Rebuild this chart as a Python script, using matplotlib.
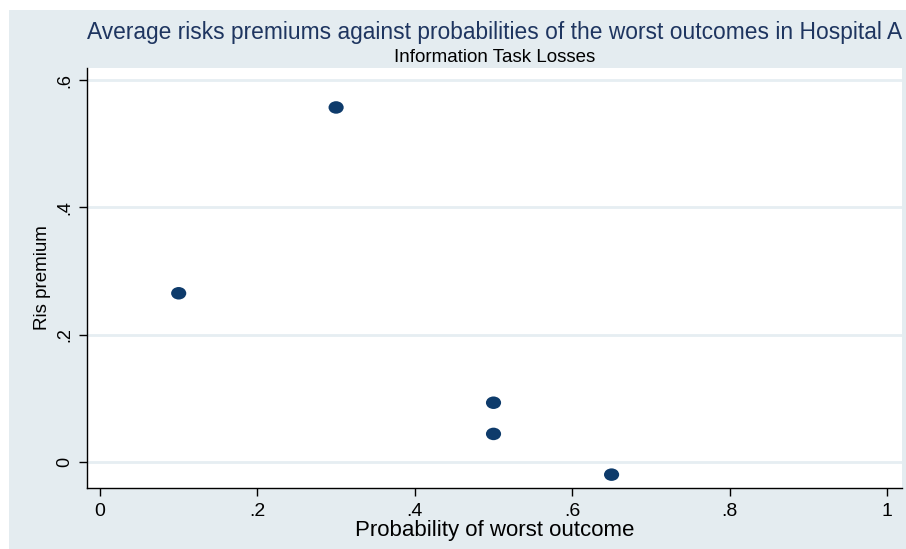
import matplotlib
matplotlib.use("Agg")
import matplotlib.pyplot as plt
from matplotlib.patches import Rectangle
from matplotlib.markers import MarkerStyle
from matplotlib.transforms import Affine2D

# data
prob_worst = [0.1, 0.3, 0.5, 0.5, 0.65]
risk_premium = [0.265, 0.557, 0.093, 0.044, -0.020]

x_ticks = [0, 0.2, 0.4, 0.6, 0.8, 1]
x_tick_labels = ["0", ".2", ".4", ".6", ".8", "1"]
y_ticks = [0, 0.2, 0.4, 0.6]
y_tick_labels = ["0", ".2", ".4", ".6"]

plt.rcParams["font.family"] = ["Liberation Sans", "DejaVu Sans"]

W, H = 906, 549
fig = plt.figure(figsize=(W / 100, H / 100), dpi=100)
fig.patch.set_facecolor("white")

# stata-like light background
bg = "#e4ecf0"
fig.patches.append(Rectangle((9 / W, 0), 1 - 9 / W, 1 - 10 / H,
                             transform=fig.transFigure, facecolor=bg,
                             edgecolor="none", zorder=-10))

left, right, top, bottom = 87, 902, 68, 488
ax = fig.add_axes([left / W, 1 - bottom / H, (right - left) / W, (bottom - top) / H])
ax.set_zorder(5)
ax.set_facecolor("white")

# slightly wide dots, like the stata export
dot = MarkerStyle("o", transform=Affine2D().scale(1.15, 0.95))
ax.scatter(prob_worst, risk_premium, s=90, color="#0e3b6b", marker=dot,
           edgecolors="none", zorder=3)

ax.set_xlim(-0.0165, 1.019)
ax.set_ylim(-0.041, 0.619)

ax.set_xticks(x_ticks)
ax.set_xticklabels(x_tick_labels, fontsize=14)
ax.set_yticks(y_ticks)
ax.set_yticklabels(y_tick_labels, fontsize=13, rotation=90, va="center")

for yv in y_ticks:
    ax.axhline(yv, color="#e6eef2", lw=2, zorder=1)

for s in ["top", "right"]:
    ax.spines[s].set_visible(False)
ax.spines["left"].set_color("black")
ax.spines["bottom"].set_color("black")
ax.spines["left"].set_linewidth(1.0)
ax.spines["bottom"].set_linewidth(1.0)
ax.tick_params(axis="both", length=6, width=1, color="black", pad=4)
ax.tick_params(axis="x", pad=5)

ax.set_xlabel("Probability of worst outcome", fontsize=16, labelpad=0)
ax.set_ylabel("Ris premium", fontsize=13.5, labelpad=4)

cx = (left + right) / 2 / W
fig.text(cx, 1 - 32 / H, "Average risks premiums against probabilities of the worst outcomes in Hospital A",
         ha="center", va="center", fontsize=16.4, color="#1e3560")
fig.text(cx, 1 - 57 / H, "Information Task Losses", ha="center", va="center",
         fontsize=13.5, color="black")

fig.savefig("out.png", dpi=100, facecolor=fig.get_facecolor())
